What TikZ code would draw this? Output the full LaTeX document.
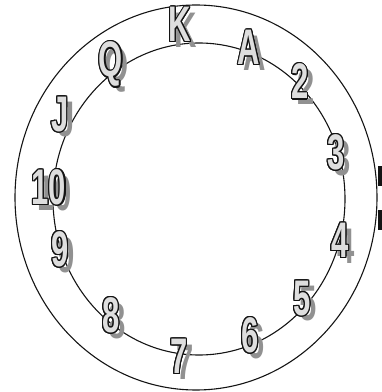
\documentclass[tikz,border=0pt]{standalone}
\usepackage{xcolor}
\usepackage{fontspec}
\setmainfont{Liberation Sans}
\usepackage{contour}
\usepackage{tikz}
\contourlength{1.1pt}
\contournumber{16}
\definecolor{mydark}{RGB}{20,20,20}
\definecolor{mylight}{RGB}{222,222,222}
\definecolor{myshade}{RGB}{145,145,145}
\newcommand{\cardfont}{\fontsize{50}{50}\selectfont\bfseries}
\newcommand{\narrow}[1]{\scalebox{0.62}[1]{#1}}
\tikzset{
  ring/.style={draw=mydark, line width=1.1pt},
  rank/.style={font=\cardfont, inner sep=0pt, text=mylight},
  rankshade/.style={font=\cardfont, inner sep=0pt, text=myshade}
}
\begin{document}
\begin{tikzpicture}[x=1pt, y=1pt]
  \useasboundingbox (0,0) rectangle (382,392);
  % Two rings
  \draw[ring] (196,194.5) ellipse [x radius=181pt, y radius=192.5pt];
  \draw[ring] (199,193) ellipse [x radius=146pt, y radius=156pt];

  % Marks on the right side
  \fill[mydark] (378,206) rectangle (382,226);
  \fill[mydark] (378,162) rectangle (382,182);

  % Card ranks round the dial, shadow first
  \foreach \name/\x/\y/\txt in {K/180/367/K, A/249/344/A, two/300/310/2, three/336/239/3,
      four/340/151/4, five/302/93/5, six/250/56/6, seven/179/35/7, eight/111/76/8,
      nine/60/142/9, ten/49/204/10, J/60/277/J, Q/111/327/Q} {
    \node[rankshade] (s\name) at (\x+6,\y-5) {\narrow{\txt}};
    \node[rank] (\name) at (\x,\y) {\contour{mydark}{\narrow{\txt}}};
  }
\end{tikzpicture}
\end{document}
